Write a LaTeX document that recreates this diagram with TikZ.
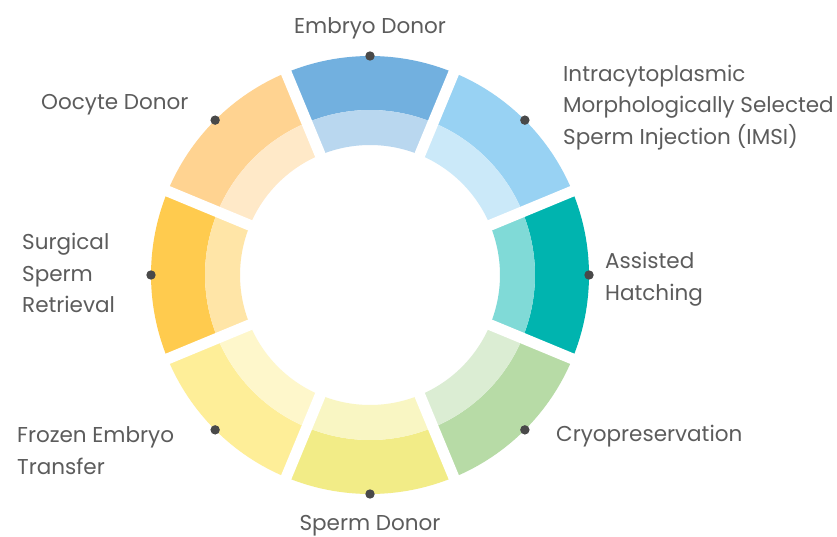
\documentclass[tikz,border=0pt]{standalone}
\usepackage{fontspec}
\setmainfont{Poppins}
\definecolor{txt}{HTML}{5C5C5C}
\definecolor{dotc}{HTML}{494949}
\definecolor{cEmb}{HTML}{72B0DF}
\definecolor{cImsi}{HTML}{98D2F3}
\definecolor{cAss}{HTML}{00B4AF}
\definecolor{cCryo}{HTML}{B7DBA6}
\definecolor{cSpd}{HTML}{F2EC87}
\definecolor{cFro}{HTML}{FEEE98}
\definecolor{cSur}{HTML}{FFCB4E}
\definecolor{cOoc}{HTML}{FFD391}
\tikzset{
  lbl/.style={font=\fontsize{21.5}{31.8}\selectfont, text=txt, inner sep=0pt, align=left},
  dotnode/.style={circle, fill=dotc, inner sep=0pt, minimum size=9.4pt},
  gapline/.style={white, line width=11pt}
}
\begin{document}
\begin{tikzpicture}[x=1pt,y=1pt]
\useasboundingbox (0,0) rectangle (837,536);
\fill[white] (0,0) rectangle (837,536);
\begin{scope}[shift={(370,261)}]
  \foreach \a/\c in {90/cEmb,45/cImsi,0/cAss,-45/cCryo,-90/cSpd,-135/cFro,180/cSur,135/cOoc}{
    \pgfmathsetmacro{\sa}{\a-22.5}
    \pgfmathsetmacro{\ea}{\a+22.5}
    \fill[\c] (\sa:219pt) arc[start angle=\sa, end angle=\ea, radius=219pt]
      -- (\ea:165pt) arc[start angle=\ea, end angle=\sa, radius=165pt] -- cycle;
    \fill[\c!50!white] (\sa:165pt) arc[start angle=\sa, end angle=\ea, radius=165pt]
      -- (\ea:130pt) arc[start angle=\ea, end angle=\sa, radius=130pt] -- cycle;
  }
  \foreach \g in {22.5,67.5,112.5,157.5,202.5,247.5,292.5,337.5}{
    \draw[gapline] (\g:120pt) -- (\g:232pt);
  }
  \node[dotnode] (dEmb) at (90:219pt) {};
  \node[dotnode] (dImsi) at (45:219pt) {};
  \node[dotnode] (dAss) at (0:219pt) {};
  \node[dotnode] (dCryo) at (-45:219pt) {};
  \node[dotnode] (dSpd) at (-90:219pt) {};
  \node[dotnode] (dFro) at (-135:219pt) {};
  \node[dotnode] (dSur) at (180:219pt) {};
  \node[dotnode] (dOoc) at (135:219pt) {};
\end{scope}
\node[lbl, anchor=base] (lEmb) at (370,502) {Embryo Donor};
\node[lbl, anchor=base] (lSpd) at (370,6) {Sperm Donor};
\node[lbl, anchor=west] (lImsi) at (563,428.5) {Intracytoplasmic\\Morphologically Selected\\Sperm Injection (IMSI)};
\node[lbl, anchor=west] (lAss) at (605,257) {Assisted\\Hatching};
\node[lbl, anchor=west] (lCryo) at (556,100) {Cryopreservation};
\node[lbl, anchor=west] (lFro) at (17,85.5) {Frozen Embryo\\Transfer};
\node[lbl, anchor=west] (lSur) at (22,263) {Surgical\\Sperm\\Retrieval};
\node[lbl, anchor=west] (lOoc) at (41,431) {Oocyte Donor};
\end{tikzpicture}
\end{document}
